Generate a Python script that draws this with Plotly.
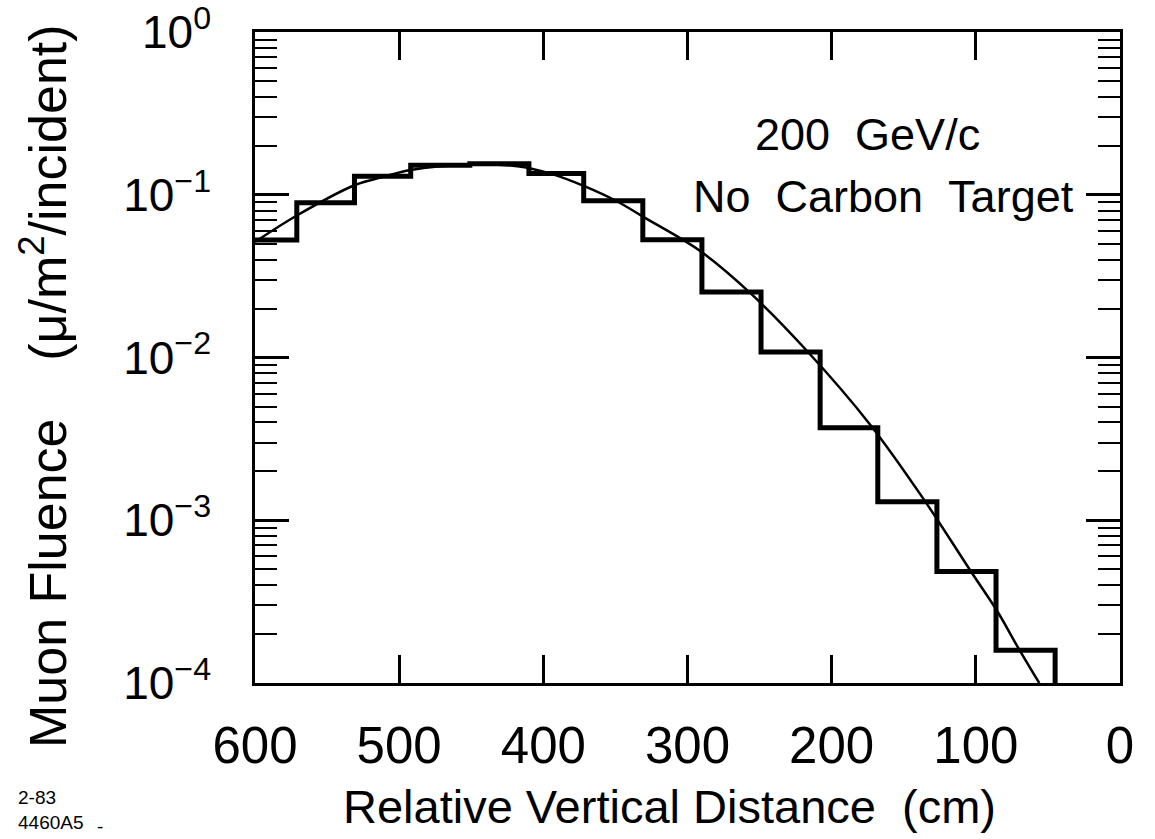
import plotly.graph_objects as go

# Histogram (bin edges in cm, fluence per bin)
bin_edges = [600, 571, 531, 492, 451, 410, 372, 331, 290, 249, 208, 168, 127, 86, 45]
bin_values = [0.0527, 0.0894, 0.130, 0.152, 0.155, 0.135, 0.0918, 0.0529,
              0.0253, 0.0108, 0.0037, 0.0013, 0.000485, 0.000159]
floor_value = 1e-5  # histogram drops below the axis after the last bin

# Smooth fitted curve
curve_x = [600, 571, 531, 511, 492, 453, 418, 395, 372, 349, 331, 303, 290,
           256, 218, 173, 136, 103.5, 85, 71, 56]
curve_y = [0.0513, 0.0746, 0.1145, 0.129, 0.142, 0.153, 0.150, 0.135, 0.1135,
           0.0913, 0.0735, 0.0528, 0.0444, 0.0247, 0.0112, 0.00384, 0.00134,
           0.000486, 0.000275, 0.000167, 0.0001]

x_ticks = [600, 500, 400, 300, 200, 100, 0]
y_ticks = [1e-4, 1e-3, 1e-2, 1e-1, 1]
y_ticktext = ["10<sup>−4</sup>", "10<sup>−3</sup>", "10<sup>−2</sup>",
              "10<sup>−1</sup>", "10<sup>0</sup>"]

FONT = "Liberation Sans"

hist_x = bin_edges
hist_y = bin_values + [floor_value]

fig = go.Figure()
fig.add_trace(go.Scatter(x=hist_x, y=hist_y, mode="lines", line_shape="hv",
                         line=dict(color="black", width=5), showlegend=False,
                         hoverinfo="skip"))
fig.add_trace(go.Scatter(x=curve_x, y=curve_y, mode="lines", line_shape="spline",
                         line=dict(color="black", width=2.5), showlegend=False,
                         hoverinfo="skip"))

fig.update_layout(
    width=1155, height=839,
    margin=dict(l=255, r=35, t=32, b=156, autoexpand=False),
    paper_bgcolor="white", plot_bgcolor="white",
    font=dict(family=FONT, color="black"),
    xaxis=dict(range=[600, 0], tickvals=x_ticks, ticktext=[str(v) for v in x_ticks],
               ticks="inside", ticklen=28, tickwidth=2.5, tickcolor="black",
               showline=True, linewidth=2.5, linecolor="black", mirror="allticks",
               showgrid=False, zeroline=False, tickfont=dict(size=51, family=FONT),
               ticklabelstandoff=16, ticklabeloverflow="allow", automargin=False),
    yaxis=dict(type="log", range=[-4, 0.0005], tickvals=y_ticks, ticktext=y_ticktext,
               ticks="inside", ticklen=34, tickwidth=2.5, tickcolor="black",
               showline=True, linewidth=2.5, linecolor="black", mirror="allticks",
               showgrid=False, zeroline=False, tickfont=dict(size=46, family=FONT),
               ticklabelstandoff=32, ticklabeloverflow="allow", automargin=False,
               minor=dict(ticks="inside", ticklen=22, tickwidth=2, tickcolor="black",
                          dtick="D1", showgrid=False)),
)

pw, ph = 1155 - 255 - 35, 839 - 32 - 156

def px(xp):
    return (xp - 255) / pw

def py(yp):
    return (683 - yp) / ph

annotations = [
    dict(text="Relative Vertical Distance\u00a0\u00a0(cm)", x=px(669), y=py(806),
         xref="paper", yref="paper", xanchor="center", yanchor="middle",
         showarrow=False, font=dict(size=47, family=FONT)),
    dict(text="Muon\u00a0Fluence\u00a0\u00a0\u00a0\u00a0(μ/m<sup>2</sup>/incident)",
         x=px(44), y=py(386),
         xref="paper", yref="paper", xanchor="center", yanchor="middle",
         textangle=-90, showarrow=False, font=dict(size=52, family=FONT)),
    dict(text="200\u00a0\u00a0GeV/c", x=px(867), y=py(134),
         xref="paper", yref="paper", xanchor="center", yanchor="middle",
         showarrow=False, font=dict(size=45, family=FONT)),
    dict(text="No\u00a0\u00a0Carbon\u00a0\u00a0Target", x=px(883), y=py(196),
         xref="paper", yref="paper", xanchor="center", yanchor="middle",
         showarrow=False, font=dict(size=45, family=FONT)),
    dict(text="2-83<br>4460A5", x=px(16), y=py(810), xref="paper", yref="paper",
         xanchor="left", yanchor="middle", align="left",
         showarrow=False, font=dict(size=19, family=FONT)),
    dict(text="-", x=px(100), y=py(826), xref="paper", yref="paper",
         xanchor="center", yanchor="middle",
         showarrow=False, font=dict(size=19, family=FONT)),
]
fig.update_layout(annotations=annotations)

fig.write_html("out.html")
